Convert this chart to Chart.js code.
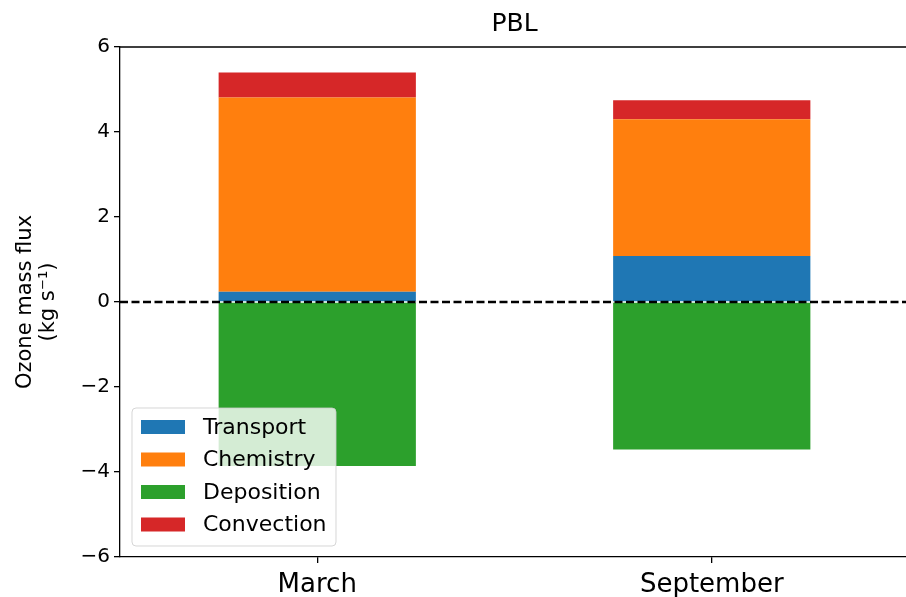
<!DOCTYPE html>
<html>
<head>
<meta charset="utf-8">
<script src="https://cdn.jsdelivr.net/npm/chart.js@4/dist/chart.umd.min.js"></script>
<style>
  html, body { margin: 0; padding: 0; background: #fff; overflow: hidden; }
  #wrap { width: 912px; height: 597px; }
</style>
</head>
<body>
<div id="wrap"><canvas id="fluxChart" width="912" height="597"></canvas></div>
<script>
// Data
const months = ['March', 'September'];
const transport = [0.24, 1.08];
const chemistry = [4.57, 3.22];
const deposition = [-3.86, -3.47];
const convection = [0.59, 0.45];
const yTicks = [-6, -4, -2, 0, 2, 4, 6];
const chartTitle = 'PBL';

const FONT = "'DejaVu Sans', sans-serif";

// Dashed zero line, top/right spines and the axes title
const framePlugin = {
    id: 'frame',
    afterDatasetsDraw(chart) {
        const ctx = chart.ctx;
        const area = chart.chartArea;
        const y0 = chart.scales.y.getPixelForValue(0);
        ctx.save();
        ctx.strokeStyle = '#000';
        ctx.lineWidth = 2.5;
        ctx.setLineDash([8, 3.5]);
        ctx.beginPath();
        ctx.moveTo(area.left, y0);
        ctx.lineTo(area.right, y0);
        ctx.stroke();
        ctx.setLineDash([]);
        ctx.lineWidth = 1.3;
        ctx.beginPath();
        ctx.moveTo(area.left, area.top);
        ctx.lineTo(area.right, area.top);
        ctx.lineTo(area.right, area.bottom);
        ctx.stroke();
        // title centred over the axes, like matplotlib
        ctx.fillStyle = '#000';
        ctx.font = '25px ' + FONT;
        ctx.textAlign = 'center';
        ctx.textBaseline = 'middle';
        ctx.fillText(chartTitle, (area.left + area.right) / 2, area.top - 23);
        ctx.restore();
    }
};

// matplotlib-style legend in the lower left of the axes
const legendPlugin = {
    id: 'boxLegend',
    afterDraw(chart) {
        const ctx = chart.ctx;
        const area = chart.chartArea;
        const x = area.left + 12, w = 204, h = 138;
        const y = area.bottom - 11 - h;
        ctx.save();
        ctx.fillStyle = 'rgba(255,255,255,0.8)';
        ctx.strokeStyle = 'rgba(204,204,204,0.8)';
        ctx.lineWidth = 1;
        ctx.beginPath();
        ctx.roundRect(x, y, w, h, 4);
        ctx.fill();
        ctx.stroke();
        ctx.font = '22px ' + FONT;
        ctx.textBaseline = 'middle';
        chart.data.datasets.forEach((ds, i) => {
            const cy = y + 19 + i * 32.5;
            ctx.fillStyle = ds.backgroundColor;
            ctx.fillRect(x + 9, cy - 7, 44, 14);
            ctx.fillStyle = '#000';
            ctx.fillText(ds.label, x + 71, cy + 1);
        });
        ctx.restore();
    }
};

const ctx = document.getElementById('fluxChart').getContext('2d');
new Chart(ctx, {
    type: 'bar',
    data: {
        labels: months,
        datasets: [
            { label: 'Transport', data: transport, backgroundColor: '#1f77b4' },
            { label: 'Chemistry', data: chemistry, backgroundColor: '#ff7f0e' },
            { label: 'Deposition', data: deposition, backgroundColor: '#2ca02c' },
            { label: 'Convection', data: convection, backgroundColor: '#d62728' }
        ]
    },
    options: {
        responsive: false,
        animation: false,
        layout: { padding: { left: 0, right: 3, top: 47, bottom: 0 } },
        datasets: { bar: { barPercentage: 0.5, categoryPercentage: 1.0, borderWidth: 0 } },
        plugins: {
            legend: { display: false },
            tooltip: { enabled: false },
            title: { display: false }
        },
        scales: {
            x: {
                stacked: true,
                grid: { offset: false, drawOnChartArea: false, drawTicks: true, tickLength: 6, color: '#000', lineWidth: 1.3 },
                border: { display: true, color: '#000', width: 1.3 },
                ticks: { color: '#000', font: { family: FONT, size: 26 }, padding: 7 },
                afterFit(scale) { scale.height = 40; }
            },
            y: {
                stacked: true,
                min: -6,
                max: 6,
                afterBuildTicks(scale) { scale.ticks = yTicks.map(v => ({ value: v })); },
                grid: { drawOnChartArea: false, drawTicks: true, tickLength: 6, color: '#000', lineWidth: 1.3 },
                border: { display: true, color: '#000', width: 1.3 },
                ticks: {
                    color: '#000',
                    font: { family: FONT, size: 20 },
                    padding: 4,
                    callback: v => String(v).replace('-', '\u2212')
                },
                title: {
                    display: true,
                    text: ['Ozone mass flux', '(kg s\u207B\u00B9)'],
                    color: '#000',
                    font: { family: FONT, size: 21, lineHeight: 1.1 },
                    padding: { top: 14, bottom: 4 }
                },
                afterFit(scale) { scale.width = 120; }
            }
        }
    },
    plugins: [framePlugin, legendPlugin]
});
</script>
</body>
</html>
